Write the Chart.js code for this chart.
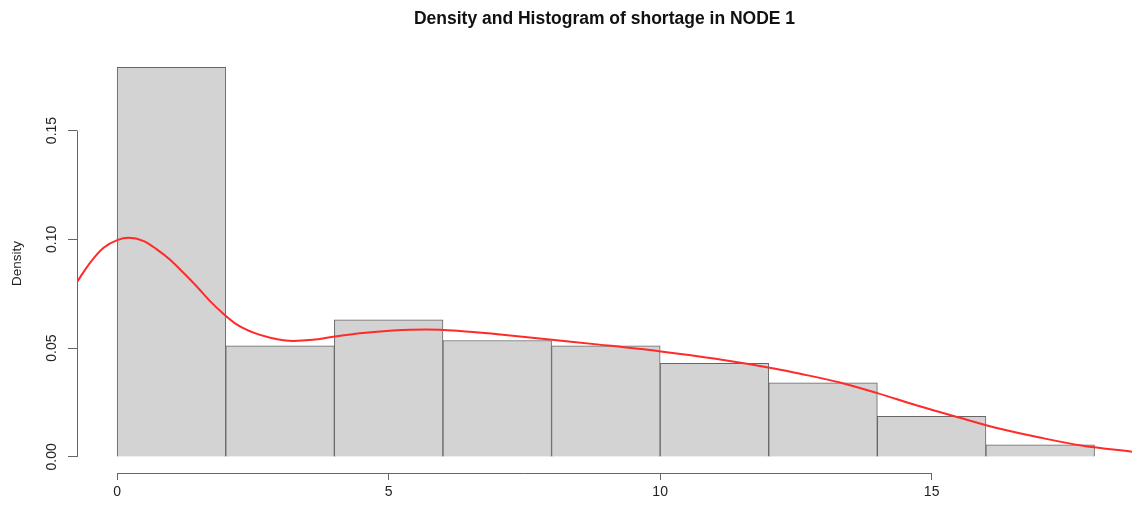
<!DOCTYPE html>
<html>
<head>
<meta charset="utf-8">
<script src="https://cdn.jsdelivr.net/npm/chart.js@4"></script>
<style>
  html, body { margin: 0; padding: 0; background: #fff; }
  #wrap { width: 1132px; height: 506px; position: relative; }
</style>
</head>
<body>
<div id="wrap"><canvas id="hist"></canvas></div>
<script>
// histogram bins (width 2) and their densities
const binStarts = [0, 2, 4, 6, 8, 10, 12, 14, 16];
const binDensity = [0.179, 0.051, 0.063, 0.0535, 0.051, 0.043, 0.034, 0.0187, 0.0055];

// kernel density estimate
const kdeX = [-0.74, -0.5, -0.25, 0, 0.21, 0.49, 0.73, 0.98, 1.22, 1.47, 1.71, 1.96, 2.2, 2.51, 2.82, 3.24, 3.6, 3.98, 4.47, 5.08, 5.69, 6.31, 6.92, 7.96, 8.88, 9.98, 11.02, 12.12, 12.58, 13.31, 14.0, 14.73, 15.52, 16.26, 16.99, 17.79, 18.69];
const kdeY = [0.0804, 0.0892, 0.0961, 0.0996, 0.1007, 0.0992, 0.0954, 0.0905, 0.0846, 0.0782, 0.0716, 0.0657, 0.0609, 0.0571, 0.0548, 0.0533, 0.0538, 0.0552, 0.0568, 0.0581, 0.0586, 0.0579, 0.0566, 0.0539, 0.0516, 0.0486, 0.0451, 0.0405, 0.0382, 0.0342, 0.0293, 0.0236, 0.0180, 0.0129, 0.0089, 0.0051, 0.0024];

const xTicks = [0, 5, 10, 15];
const yTicks = [0, 0.05, 0.10, 0.15];
const titleText = 'Density and Histogram of shortage in NODE 1';
const yTitle = 'Density';

const FONT = "'Liberation Sans', Arial, Helvetica, sans-serif";

// R-style axis lines (first to last tick), rotated y labels and the main title
const rAxes = {
  id: 'rAxes',
  afterDraw(chart) {
    const ctx = chart.ctx;
    const xs = chart.scales.x, ys = chart.scales.y, area = chart.chartArea;
    ctx.save();
    ctx.strokeStyle = '#666';
    ctx.lineWidth = 1;
    ctx.beginPath();
    const yb = Math.round(area.bottom) + 0.5;
    ctx.moveTo(xs.getPixelForValue(xTicks[0]), yb);
    ctx.lineTo(xs.getPixelForValue(xTicks[xTicks.length - 1]), yb);
    const xl = Math.round(area.left) + 0.5;
    ctx.moveTo(xl, ys.getPixelForValue(yTicks[0]));
    ctx.lineTo(xl, ys.getPixelForValue(yTicks[yTicks.length - 1]));
    ctx.stroke();

    ctx.fillStyle = '#222';
    ctx.font = '14px ' + FONT;
    ctx.textAlign = 'center';
    ctx.textBaseline = 'middle';
    yTicks.forEach(v => {
      ctx.save();
      ctx.translate(52, ys.getPixelForValue(v));
      ctx.rotate(-Math.PI / 2);
      ctx.fillText(v.toFixed(2), 0, 0);
      ctx.restore();
    });
    ctx.font = '13.5px ' + FONT;
    ctx.save();
    ctx.translate(17, (area.top + area.bottom) / 2 + 2);
    ctx.rotate(-Math.PI / 2);
    ctx.fillText(yTitle, 0, 0);
    ctx.restore();

    ctx.fillStyle = '#111';
    ctx.font = 'bold 17.5px ' + FONT;
    ctx.fillText(titleText, (area.left + area.right) / 2, 19);
    ctx.restore();
  }
};

new Chart(document.getElementById('hist'), {
  data: {
    datasets: [
      {
        type: 'line',
        data: kdeX.map((x, i) => ({ x: x, y: kdeY[i] })),
        borderColor: '#ff2a2a',
        borderWidth: 2,
        pointRadius: 0,
        cubicInterpolationMode: 'monotone',
        order: 0
      },
      {
        type: 'bar',
        data: binStarts.map((s, i) => ({ x: s + 1, y: binDensity[i] })),
        backgroundColor: '#d3d3d3',
        borderColor: '#666',
        borderWidth: 1,
        barPercentage: 1,
        categoryPercentage: 1,
        order: 1
      }
    ]
  },
  options: {
    responsive: true,
    maintainAspectRatio: false,
    animation: false,
    layout: { padding: { top: 50, right: 0, left: 0, bottom: 0 } },
    plugins: { legend: { display: false }, tooltip: { enabled: false } },
    scales: {
      x: {
        type: 'linear',
        offset: false,
        min: -0.74,
        max: 18.69,
        afterBuildTicks: s => { s.ticks = xTicks.map(v => ({ value: v })); },
        afterFit: s => { s.height = 33; },
        border: { display: false },
        grid: { offset: false, drawOnChartArea: false, drawTicks: true, tickLength: 7, color: '#666' },
        ticks: {
          padding: 4,
          color: '#222',
          font: { family: FONT, size: 14 },
          maxRotation: 0,
          callback: v => String(v)
        }
      },
      y: {
        type: 'linear',
        min: -0.0074,
        max: 0.187,
        afterBuildTicks: s => { s.ticks = yTicks.map(v => ({ value: v })); },
        afterFit: s => { s.width = 77; },
        border: { display: false },
        grid: { drawOnChartArea: false, drawTicks: true, tickLength: 9, color: '#666' },
        ticks: { display: false }
      }
    }
  },
  plugins: [rAxes]
});
</script>
</body>
</html>
